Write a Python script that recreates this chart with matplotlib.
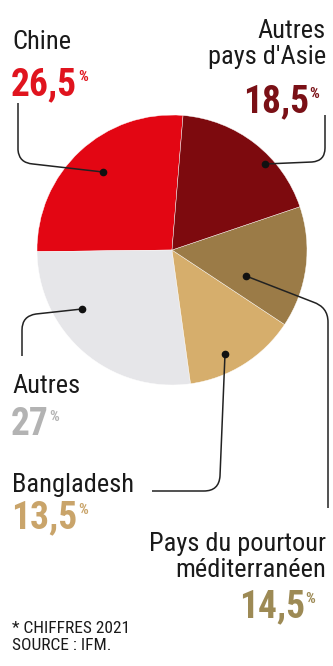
import matplotlib
matplotlib.use("Agg")
import matplotlib.pyplot as plt
from matplotlib import font_manager
from matplotlib.path import Path
from matplotlib.patches import PathPatch

# Données (chiffres 2021, source IFM)
categories = ["Chine", "Autres", "Bangladesh", "Pays du pourtour\nméditerranéen", "Autres\npays d'Asie"]
parts = [26.5, 27, 13.5, 14.5, 18.5]
valeurs_txt = ["26,5", "27", "13,5", "14,5", "18,5"]
couleurs = ["#e30613", "#e6e6e9", "#d6ae6c", "#9b7b47", "#7d0a0e"]
couleurs_txt = ["#e0141e", "#b3b3b3", "#c9a46a", "#9d8a55", "#7a1016"]

# Police étroite si disponible
dispo = {f.name for f in font_manager.fontManager.ttflist}
police = "DejaVu Sans"
for nom in ["Roboto Condensed", "Liberation Sans Narrow", "DejaVu Sans Condensed"]:
    if nom in dispo:
        police = nom
        break
plt.rcParams["font.family"] = [police, "DejaVu Sans"]

fig = plt.figure(figsize=(3.33, 6.66), dpi=100)
ax = fig.add_axes([0, 0, 1, 1])

# y vers le bas (coordonnées pixels) -> sens horaire inversé
ax.pie(parts, colors=couleurs, center=(172, 250), radius=135,
       startangle=-85.3, counterclock=False,
       wedgeprops=dict(edgecolor="white", linewidth=0.3))
ax.set_xlim(0, 333)
ax.set_ylim(666, 0)
ax.set_axis_off()

# Traits de rappel : chaque trait part du point posé sur la part
L, C = Path.LINETO, Path.CURVE3
traits = [
    [(103, 172), (33, 164), (19, 163), (18, 150), (18, 103)],      # Chine
    [(82, 309), (36, 314), (22, 316), (22, 330), (22, 356)],       # Autres
    [(225, 354), (220, 476), (219, 491), (204, 491), (152, 491)],  # Bangladesh
    [(246, 276), (313, 302), (328, 307), (328, 322), (328, 508)],  # Pourtour méd.
    [(265, 164), (312, 162), (325, 161), (325, 148), (325, 115)],  # Asie
]
codes = [Path.MOVETO, L, C, C, L]
for pts in traits:
    ax.add_patch(PathPatch(Path(pts, codes), fill=False, lw=1.1, ec="#222222"))
    ax.plot(*pts[0], "o", color="#111111", ms=4.5)

lab_kw = dict(fontsize=19, color="#1a1a1a", linespacing=1.12)
num_kw = dict(fontsize=27, fontweight="bold")


def pourcentage(t, couleur):
    ax.annotate("%", xy=(1, 1), xycoords=t, xytext=(0.5, -3),
                textcoords="offset points", ha="left", va="top",
                fontsize=11, fontweight="bold", color=couleur)


# Chine
ax.text(12, 49, categories[0], ha="left", va="baseline", **lab_kw)
t = ax.text(11, 95, valeurs_txt[0], ha="left", va="baseline", color=couleurs_txt[0], **num_kw)
pourcentage(t, couleurs_txt[0])

# Autres pays d'Asie
ax.text(326, 64, categories[4], ha="right", va="baseline", multialignment="right", **lab_kw)
t = ax.text(309, 112, valeurs_txt[4], ha="right", va="baseline", color=couleurs_txt[4], **num_kw)
pourcentage(t, couleurs_txt[4])

# Autres
ax.text(12, 393, categories[1], ha="left", va="baseline", **lab_kw)
t = ax.text(11, 435, valeurs_txt[1], ha="left", va="baseline", color=couleurs_txt[1], **num_kw)
pourcentage(t, couleurs_txt[1])

# Bangladesh
ax.text(12, 492, categories[2], ha="left", va="baseline", **lab_kw)
t = ax.text(11, 528, valeurs_txt[2], ha="left", va="baseline", color=couleurs_txt[2], **num_kw)
pourcentage(t, couleurs_txt[2])

# Pays du pourtour méditerranéen
ax.text(326, 577, categories[3], ha="right", va="baseline", multialignment="right", **lab_kw)
t = ax.text(305, 617, valeurs_txt[3], ha="right", va="baseline", color=couleurs_txt[3], **num_kw)
pourcentage(t, couleurs_txt[3])

# Note
ax.text(12, 650, "* CHIFFRES 2021\nSOURCE : IFM.", ha="left", va="baseline",
        fontsize=12.5, color="#1a1a1a", linespacing=1.2)

fig.savefig("out.png", dpi=100)
